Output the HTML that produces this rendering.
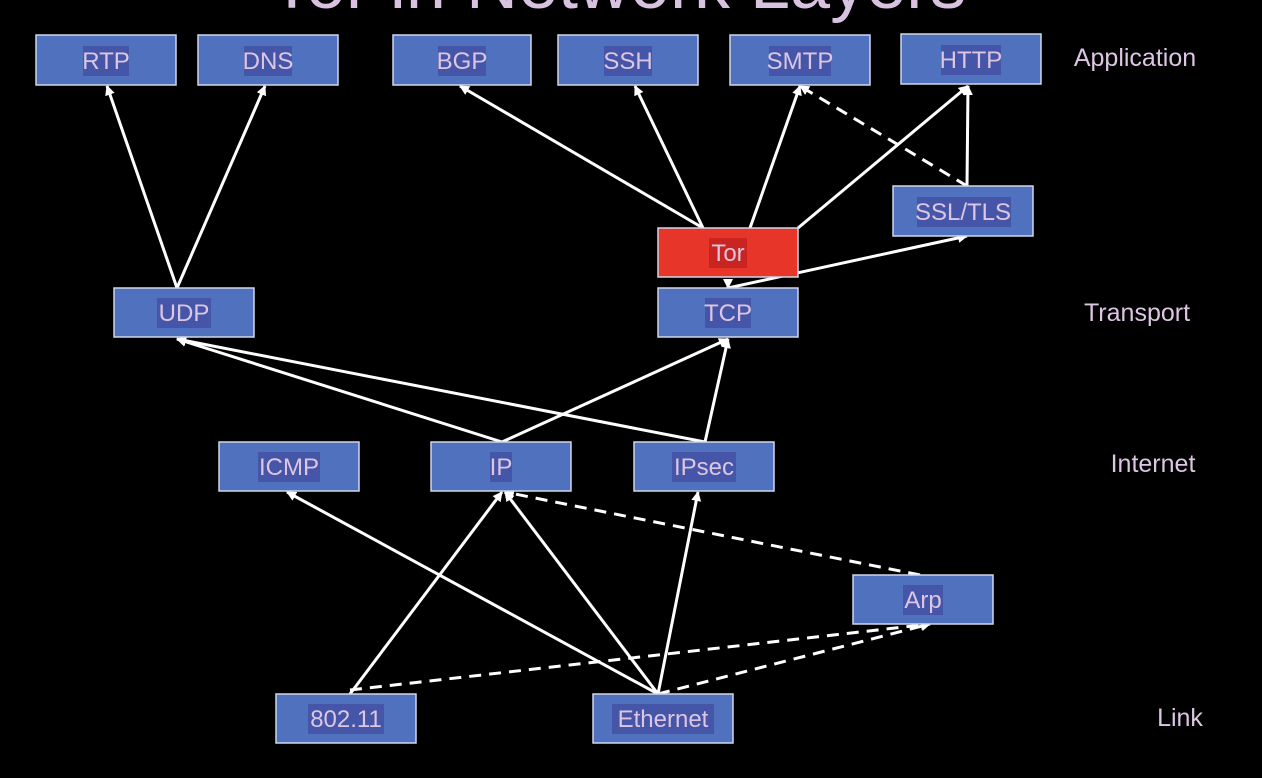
<!DOCTYPE html>
<html><head><meta charset="utf-8"><style>
html,body{margin:0;padding:0;background:#000;}
svg{display:block}
text{font-family:"Liberation Sans","DejaVu Sans",sans-serif;fill:#ddc6e3}
</style></head><body>
<svg width="1262" height="778" viewBox="0 0 1262 778" xmlns="http://www.w3.org/2000/svg">
<defs>
<marker id="a" markerWidth="10" markerHeight="10" refX="9" refY="5" orient="auto" markerUnits="userSpaceOnUse">
<path d="M0,0 L10,5 L0,10 Z" fill="#fff"/>
</marker>
</defs>
<text x="618" y="8" font-size="72" text-anchor="middle" style="fill:#d8c2e0">Tor in Network Layers</text>

<g stroke="#fff" stroke-width="3" fill="none" marker-end="url(#a)">
<line x1="177" y1="288" x2="107" y2="86"/>
<line x1="177" y1="288" x2="265" y2="86"/>
<line x1="703" y1="228" x2="460" y2="86"/>
<line x1="703" y1="228" x2="635" y2="86"/>
<line x1="750" y1="228" x2="800" y2="86"/>
<line x1="798" y1="228" x2="968" y2="86"/>
<line x1="967" y1="186" x2="968" y2="86"/>
<line x1="728" y1="280" x2="728" y2="288"/>
<line x1="728" y1="288" x2="967" y2="236"/>
<line x1="502" y1="442" x2="177" y2="339"/>
<line x1="502" y1="442" x2="728" y2="339"/>
<line x1="705" y1="442" x2="177" y2="339"/>
<line x1="705" y1="442" x2="728" y2="339"/>
<line x1="658" y1="694" x2="287" y2="492"/>
<line x1="658" y1="694" x2="505" y2="492"/>
<line x1="658" y1="694" x2="698" y2="492"/>
<line x1="350" y1="694" x2="502" y2="492"/>
</g>
<g stroke="#fff" stroke-width="3" fill="none" stroke-dasharray="12,8" marker-end="url(#a)">
<line x1="967" y1="186" x2="800" y2="86"/>
<line x1="658" y1="694" x2="930" y2="624"/>
<line x1="350" y1="690" x2="930" y2="624"/>
<line x1="920" y1="575" x2="505" y2="492"/>
</g>

<g stroke="#cfd6ea" stroke-width="1.5">
<rect x="36" y="35" width="140" height="50" fill="#5072be"/>
<rect x="198" y="35" width="140" height="50" fill="#5072be"/>
<rect x="393" y="35" width="138" height="50" fill="#5072be"/>
<rect x="558" y="35" width="140" height="50" fill="#5072be"/>
<rect x="730" y="35" width="140" height="50" fill="#5072be"/>
<rect x="901" y="34" width="140" height="50" fill="#5072be"/>
<rect x="893" y="186" width="140" height="50" fill="#5072be"/>
<rect x="658" y="228" width="140" height="49" fill="#e8352a"/>
<rect x="658" y="288" width="140" height="49" fill="#5072be"/>
<rect x="114" y="288" width="140" height="49" fill="#5072be"/>
<rect x="219" y="442" width="140" height="49" fill="#5072be"/>
<rect x="431" y="442" width="140" height="49" fill="#5072be"/>
<rect x="634" y="442" width="140" height="49" fill="#5072be"/>
<rect x="853" y="575" width="140" height="49" fill="#5072be"/>
<rect x="276" y="694" width="140" height="49" fill="#5072be"/>
<rect x="593" y="694" width="140" height="49" fill="#5072be"/>
</g>

<g fill="#4556a8">
<rect x="83" y="46" width="46" height="30"/>
<rect x="244" y="46" width="48" height="30"/>
<rect x="438" y="46" width="48" height="30"/>
<rect x="604" y="46" width="48" height="30"/>
<rect x="769" y="46" width="62" height="30"/>
<rect x="941" y="45" width="60" height="30"/>
<rect x="917" y="197" width="94" height="30"/>
<rect x="709" y="238" width="38" height="30" fill="#c9241f"/>
<rect x="705" y="298" width="46" height="30"/>
<rect x="157" y="298" width="54" height="30"/>
<rect x="258" y="452" width="62" height="30"/>
<rect x="490" y="452" width="22" height="30"/>
<rect x="672" y="452" width="64" height="30"/>
<rect x="903" y="585" width="40" height="30"/>
<rect x="308" y="704" width="76" height="30"/>
<rect x="612" y="704" width="102" height="30"/>
</g>

<g font-size="24" text-anchor="middle">
<text x="106" y="69">RTP</text>
<text x="268" y="69">DNS</text>
<text x="462" y="69">BGP</text>
<text x="628" y="69">SSH</text>
<text x="800" y="69">SMTP</text>
<text x="971" y="68">HTTP</text>
<text x="963" y="220">SSL/TLS</text>
<text x="728" y="261">Tor</text>
<text x="728" y="321">TCP</text>
<text x="184" y="321">UDP</text>
<text x="289" y="475">ICMP</text>
<text x="501" y="475">IP</text>
<text x="704" y="475">IPsec</text>
<text x="923" y="608">Arp</text>
<text x="346" y="727">802.11</text>
<text x="663" y="727">Ethernet</text>
</g>
<g font-size="25" text-anchor="middle">
<text x="1135" y="66">Application</text>
<text x="1137" y="321">Transport</text>
<text x="1153" y="472">Internet</text>
<text x="1180" y="726">Link</text>
</g>
</svg>
</body></html>
